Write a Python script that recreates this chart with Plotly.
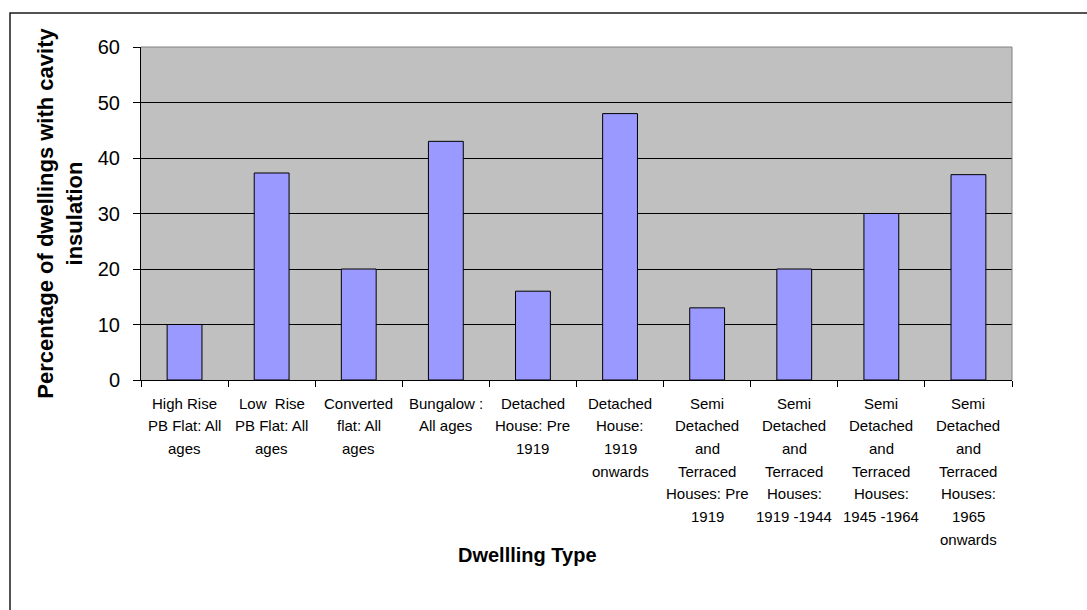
import plotly.graph_objects as go

# Dwelling categories (line breaks as they appear under the axis)
categories = [
    "High Rise<br>PB Flat: All<br>ages",
    "Low  Rise<br>PB Flat: All<br>ages",
    "Converted<br>flat: All<br>ages",
    "Bungalow :<br>All ages",
    "Detached<br>House: Pre<br>1919",
    "Detached<br>House:<br>1919<br>onwards",
    "Semi<br>Detached<br>and<br>Terraced<br>Houses: Pre<br>1919",
    "Semi<br>Detached<br>and<br>Terraced<br>Houses:<br>1919 -1944",
    "Semi<br>Detached<br>and<br>Terraced<br>Houses:<br>1945 -1964",
    "Semi<br>Detached<br>and<br>Terraced<br>Houses:<br>1965<br>onwards",
]
pct_cavity = [10, 37.3, 20, 43, 16, 48, 13, 20, 30, 37]
y_ticks = [0, 10, 20, 30, 40, 50, 60]

FONT = "Liberation Sans, Arial, sans-serif"
W, H = 1087, 610
ML, MR, MT, MB = 141, 75, 47, 230
PW, PH = W - ML - MR, H - MT - MB

fig = go.Figure(
    go.Bar(
        x=categories,
        y=pct_cavity,
        marker=dict(color="#9999FF", line=dict(color="#000000", width=1)),
        width=0.4,
    )
)

# category labels, one annotation per text line for Excel-like line spacing
line_gap = 22.7
for cat in categories:
    for i, part in enumerate(cat.split("<br>")):
        fig.add_annotation(
            x=cat, xref="x", y=0, yref="paper",
            text=part, showarrow=False,
            yanchor="middle", xanchor="center",
            yshift=-(23 + line_gap * i),
            font=dict(family=FONT, size=15, color="#000000"),
        )

# x-axis title
fig.add_annotation(
    x=(527 - ML) / PW, xref="paper", y=(MT + PH - 555) / PH, yref="paper",
    text="<b>Dwellling Type</b>", showarrow=False,
    xanchor="center", yanchor="middle",
    font=dict(family=FONT, size=20, color="#000000"),
)

# outer chart border (runs off the right and bottom edges)
fig.add_shape(
    type="rect", xref="paper", yref="paper",
    x0=(10 - ML) / PW, x1=(W + 5 - ML) / PW,
    y0=-(MB + 5) / PH, y1=1 + (MT - 13) / PH,
    line=dict(color="#1a1a1a", width=1.5), layer="above",
)
# grey plot-area frame on top and right
fig.add_shape(type="line", xref="paper", yref="paper", x0=0, x1=1, y0=1, y1=1,
              line=dict(color="#808080", width=1), layer="above")
fig.add_shape(type="line", xref="paper", yref="paper", x0=1, x1=1, y0=0, y1=1,
              line=dict(color="#808080", width=1), layer="above")

fig.update_layout(
    width=W, height=H,
    margin=dict(l=ML, r=MR, t=MT, b=MB, pad=0),
    paper_bgcolor="#FFFFFF",
    plot_bgcolor="#C0C0C0",
    showlegend=False,
    font=dict(family=FONT, color="#000000"),
    xaxis=dict(
        type="category",
        showticklabels=False,
        ticks="outside", ticklen=6, tickcolor="#000000",
        tickson="boundaries",
        showgrid=False,
        showline=True, linecolor="#000000", linewidth=1,
        range=[-0.5, len(categories) - 0.5],
    ),
    yaxis=dict(
        range=[0, 60.0001],
        tickvals=y_ticks,
        ticks="outside", ticklen=7, tickcolor="#000000",
        ticklabelstandoff=9,
        tickfont=dict(family=FONT, size=20, color="#000000"),
        showgrid=True, gridcolor="#000000", gridwidth=1,
        zeroline=False,
        showline=True, linecolor="#000000", linewidth=1,
        title=dict(
            text="<b>Percentage of dwellings with cavity<br>insulation</b>",
            font=dict(family=FONT, size=22, color="#000000"),
            standoff=9,
        ),
    ),
)

fig.write_html("out.html")
